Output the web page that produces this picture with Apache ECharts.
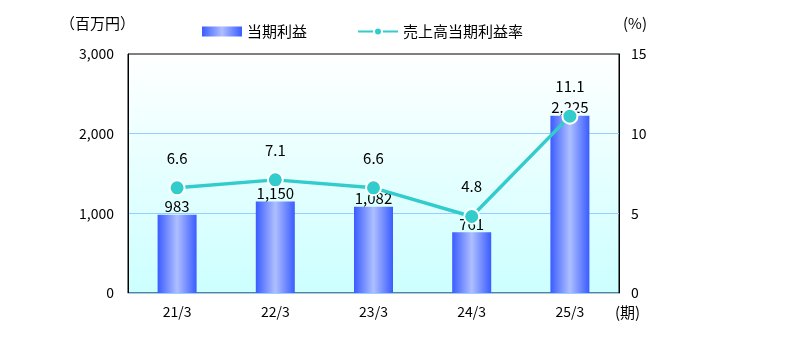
<!DOCTYPE html>
<html>
<head>
<meta charset="utf-8">
<script src="https://cdn.jsdelivr.net/npm/echarts@6/dist/echarts.min.js"></script>
<style>
  html, body { margin: 0; padding: 0; background: #fff; }
  #chart { width: 802px; height: 345px; }
</style>
</head>
<body>
<div id="chart"></div>
<script>
// 決算期
const periods = ['21/3', '22/3', '23/3', '24/3', '25/3'];
// 当期利益（百万円）
const netIncome = [983, 1150, 1082, 761, 2225];
// 売上高当期利益率（%）
const marginRate = [6.6, 7.1, 6.6, 4.8, 11.1];

const FONT = '"Noto Sans CJK JP", "Noto Sans", sans-serif';

const chart = echarts.init(document.getElementById('chart'), null, { renderer: 'canvas' });

const barGradient = new echarts.graphic.LinearGradient(0, 0, 1, 0, [
  { offset: 0, color: '#3a5cff' },
  { offset: 0.5, color: '#aebfff' },
  { offset: 1, color: '#3a5cff' }
]);

chart.setOption({
  animation: false,
  textStyle: { fontFamily: FONT },
  grid: {
    left: 128, right: 183, top: 54, bottom: 52,
    show: true,
    borderColor: '#000',
    borderWidth: 1,
    backgroundColor: new echarts.graphic.LinearGradient(0, 0, 0, 1, [
      { offset: 0, color: '#ffffff' },
      { offset: 1, color: '#ccffff' }
    ])
  },
  legend: {
    top: 19,
    left: 197,
    itemGap: 50,
    itemWidth: 40,
    itemHeight: 10,
    textStyle: { fontFamily: FONT, fontSize: 15, color: '#000' },
    data: [
      { name: '当期利益', icon: 'rect' },
      { name: '売上高当期利益率' }
    ]
  },
  xAxis: {
    type: 'category',
    data: periods,
    axisLine: { show: true, lineStyle: { color: '#99ccff', width: 1 } },
    axisTick: { show: false },
    axisLabel: { color: '#000', fontSize: 14, margin: 12, fontFamily: FONT }
  },
  yAxis: [
    {
      type: 'value',
      min: 0, max: 3000, interval: 1000,
      axisLine: { show: true, lineStyle: { color: '#000' } },
      axisTick: { show: false },
      axisLabel: {
        color: '#000', fontSize: 14, margin: 14, fontFamily: FONT,
        formatter: v => v.toLocaleString('en-US')
      },
      splitLine: {
        show: true, showMinLine: false, showMaxLine: false,
        lineStyle: { color: '#99ccff', width: 1 }
      }
    },
    {
      type: 'value',
      min: 0, max: 15, interval: 5,
      axisLine: { show: true, lineStyle: { color: '#000' } },
      axisTick: { show: false },
      axisLabel: { color: '#000', fontSize: 14, margin: 12, fontFamily: FONT },
      splitLine: { show: false }
    }
  ],
  series: [
    {
      name: '当期利益',
      type: 'bar',
      yAxisIndex: 0,
      data: netIncome,
      barWidth: 39,
      itemStyle: { color: barGradient },
      label: {
        show: true,
        position: 'top',
        distance: 1,
        color: '#000',
        fontSize: 15,
        fontFamily: FONT,
        formatter: p => p.value.toLocaleString('en-US')
      },
      z: 2
    },
    {
      name: '売上高当期利益率',
      type: 'line',
      yAxisIndex: 1,
      data: marginRate,
      symbol: 'circle',
      symbolSize: 15,
      lineStyle: { color: '#33cccc', width: 3.5 },
      itemStyle: { color: '#33cccc', borderColor: '#ffffff', borderWidth: 2 },
      label: {
        show: true,
        position: 'top',
        distance: 14,
        color: '#000',
        fontSize: 15,
        fontFamily: FONT,
        formatter: p => p.value.toFixed(1)
      },
      z: 3
    }
  ],
  graphic: [
    {
      type: 'text', left: 60, top: 16,
      style: { text: '（百万円）', fontSize: 15, fontFamily: FONT, fill: '#000' }
    },
    {
      type: 'text', left: 623, top: 16,
      style: { text: '(%)', fontSize: 15, fontFamily: FONT, fill: '#000' }
    },
    {
      type: 'text', left: 615, top: 305,
      style: { text: '(期)', fontSize: 15, fontFamily: FONT, fill: '#000' }
    }
  ]
});
</script>
</body>
</html>
